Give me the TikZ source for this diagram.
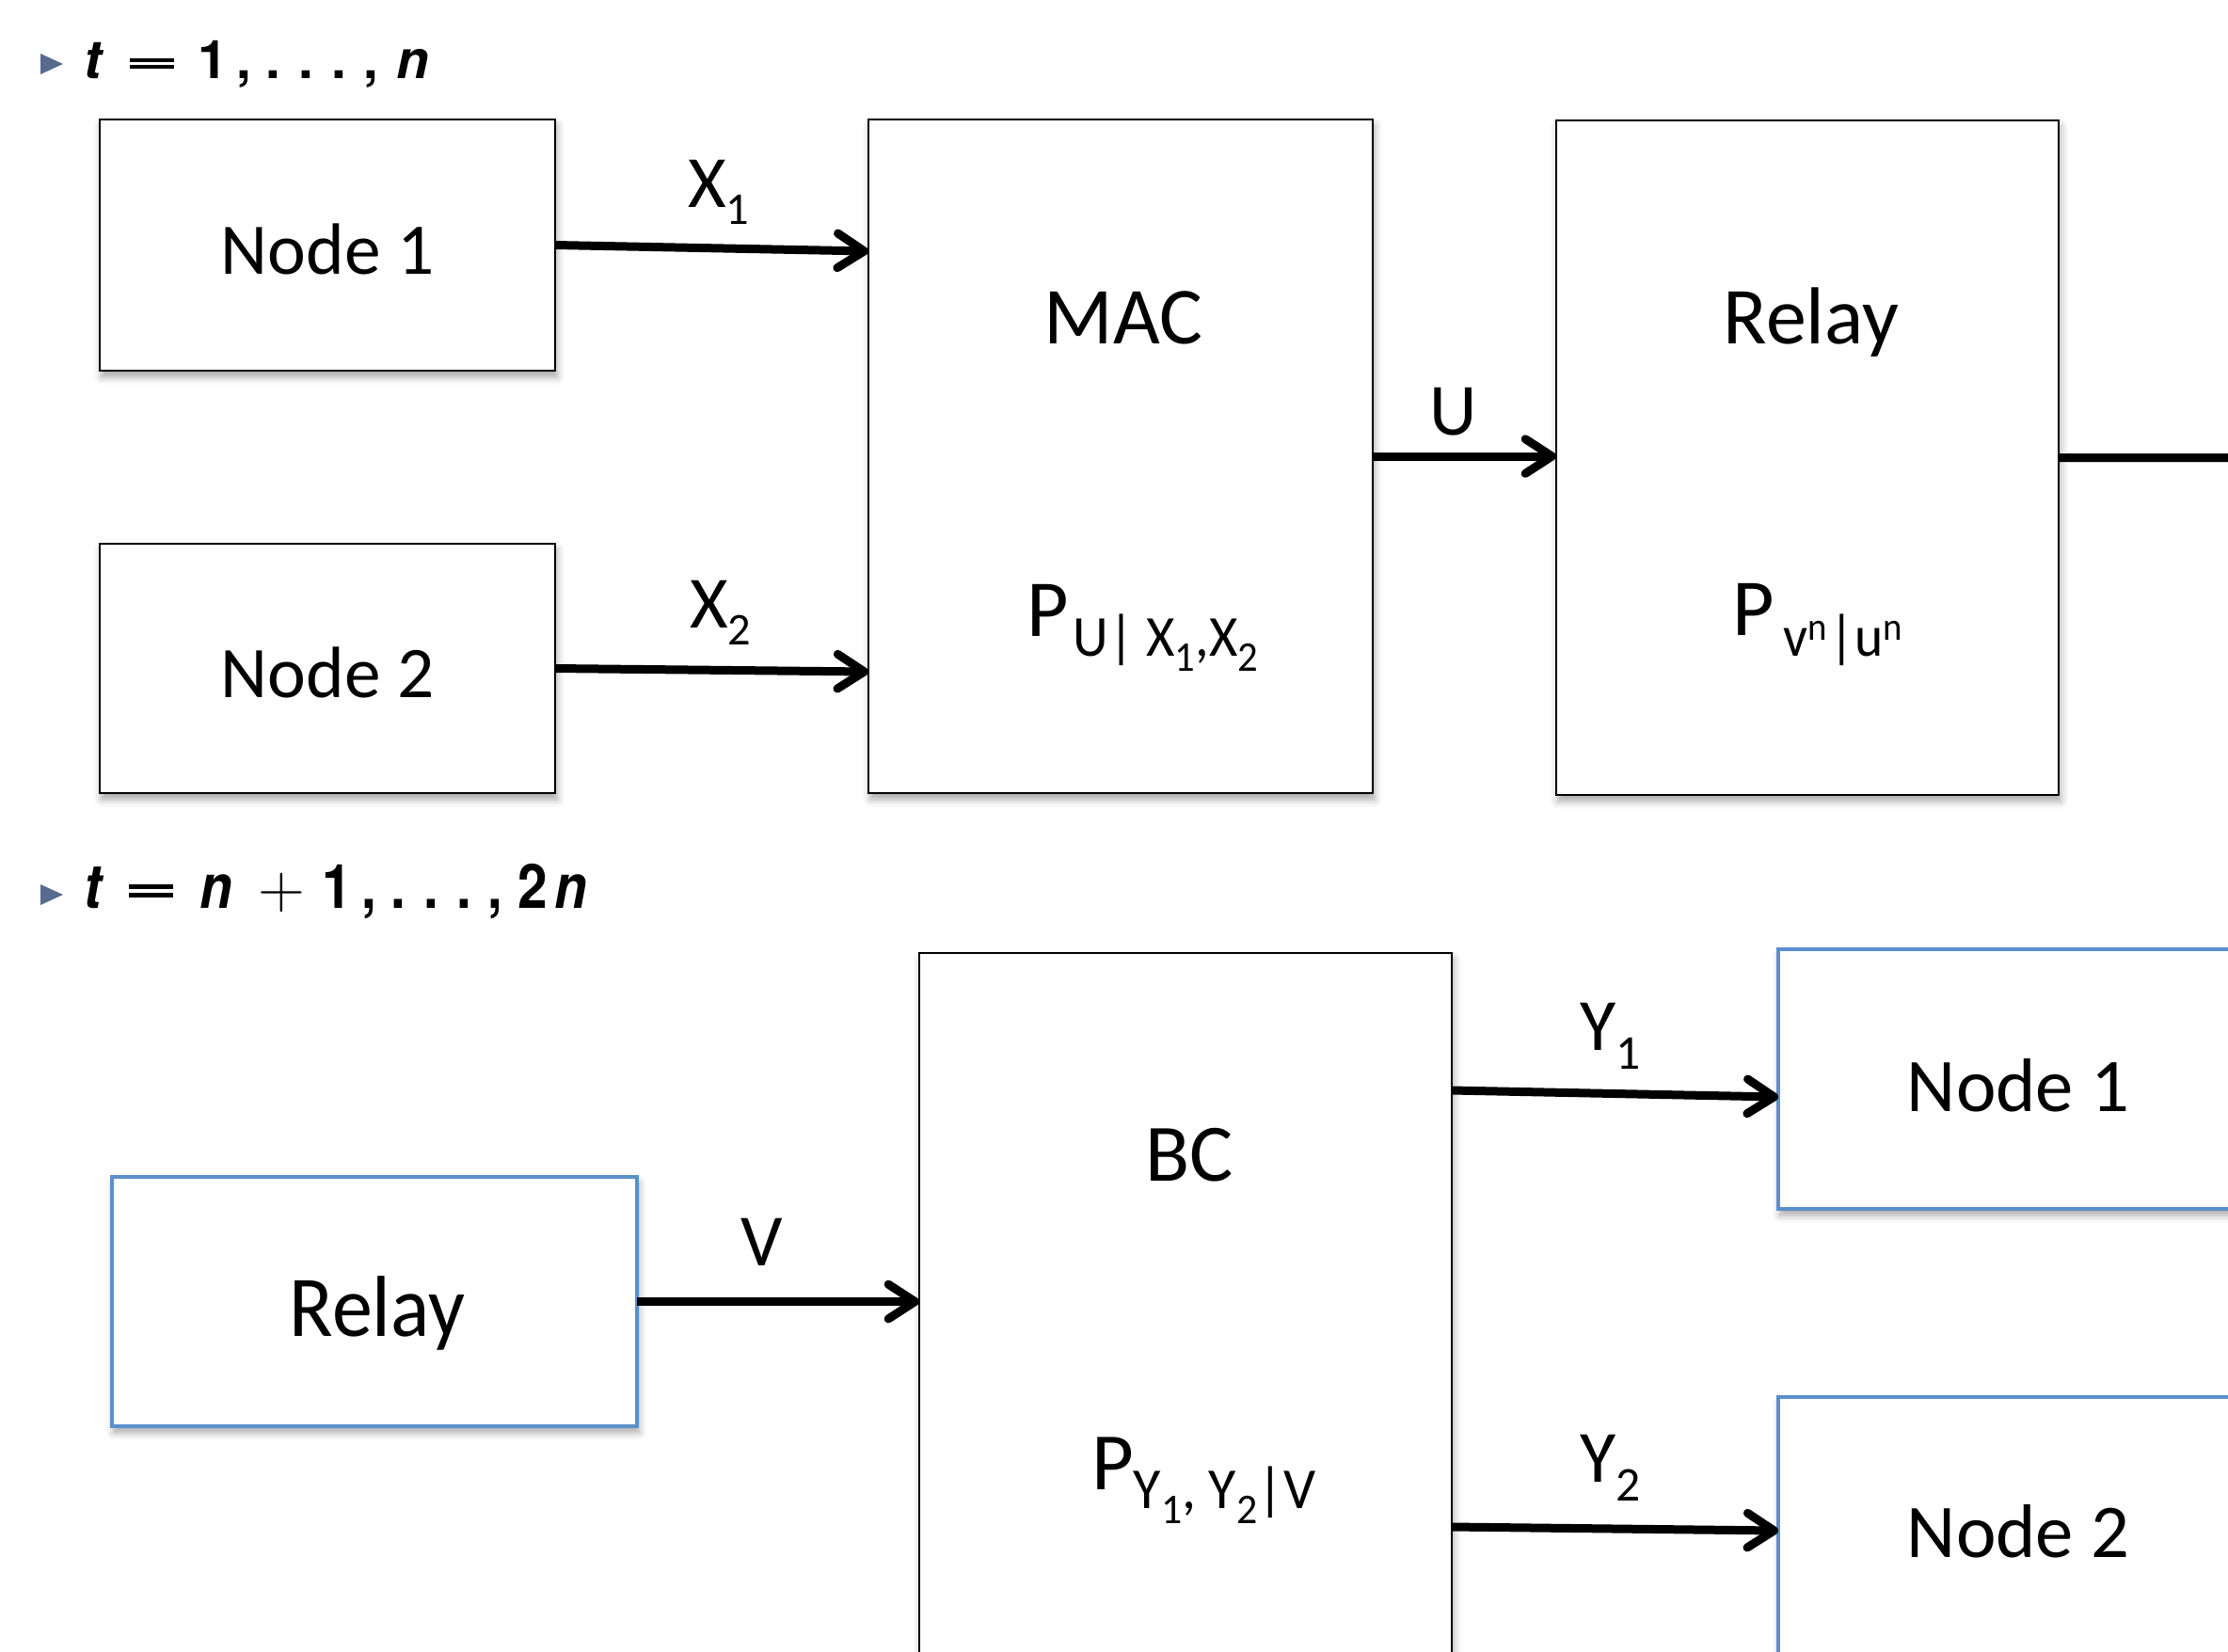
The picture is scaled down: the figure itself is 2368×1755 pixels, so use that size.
\documentclass[tikz,border=0pt]{standalone}
\usepackage{fontspec}
\usepackage{graphicx}
\setmainfont{Carlito}
\newfontfamily\herosfont{TeX Gyre Heros}
\usetikzlibrary{arrows.meta,calc,shadows.blur}
\definecolor{boxblue}{RGB}{91,143,204}
\definecolor{bulletcol}{RGB}{88,106,142}
\newcommand\fs[1]{\fontsize{#1}{#1}\selectfont}
\newcommand\gl[2]{\makebox[#1pt][l]{#2}}
\newcommand\beq{\rlap{\rule[2.9pt]{14.2pt}{1.2pt}}\rule[5.2pt]{14.2pt}{1.2pt}}
\tikzset{
  box/.style={draw=black, line width=0.75pt, fill=white, inner sep=0pt, outer sep=0pt,
    anchor=north west,
    blur shadow={shadow xshift=0.6pt, shadow yshift=-2pt, shadow blur radius=2.4pt, shadow opacity=35}},
  bluebox/.style={box, draw=boxblue, line width=1pt},
  arr/.style={line width=2.7pt, -{Straight Barb[length=8.5pt,width=11pt,round]}},
  wire/.style={line width=2.7pt},
  lbl/.style={inner sep=0pt, outer sep=0pt, anchor=base},
  lblw/.style={lbl, anchor=base west},
  ttl/.style={lblw, font={\herosfont\bfseries\fs{17}}},
}
\begin{document}
\begin{tikzpicture}[x=0.3pt,y=-0.3pt]
\useasboundingbox (0,0) rectangle (2368,1755);
\clip (0,0) rectangle (2368,1755);

% ---- titles
\fill[bulletcol] (43,57) -- (67,68) -- (43,79) -- cycle;
\node[ttl] (title1) at (89,83) {\gl{14.7}{\itshape t}\gl{21.6}{\beq}\gl{12.6}{1}\gl{9.3}{,}\gl{10.5}{.}\gl{10.5}{.}\gl{10.2}{.}\gl{10.2}{,}{\itshape n}};
\fill[bulletcol] (43,940) -- (67,951) -- (43,962) -- cycle;
\node[ttl] (title2) at (89,965) {\scalebox{1}[1.15]{\gl{14.4}{\itshape t}\gl{22.5}{\beq}\gl{18.6}{\itshape n}\gl{20.7}{\scalebox{1.2}[1]{$+$}}\gl{12.6}{1}\gl{9.3}{,}\gl{10.5}{.}\gl{10.5}{.}\gl{9.9}{.}\gl{9.6}{,}\gl{11.4}{2}{\itshape n}}};

% ---- top boxes
\node[box, minimum width=145.2pt, minimum height=80.1pt] (n1) at (106,127) {};
\node[box, minimum width=145.2pt, minimum height=79.5pt] (n2) at (106,578) {};
\node[box, minimum width=160.8pt, minimum height=214.8pt] (mac) at (923,127) {};
\node[box, minimum width=160.2pt, minimum height=215.1pt] (relay) at (1654,128) {};
\coordinate (offR) at (2420,486.5);

% ---- bottom boxes
\node[bluebox, minimum width=167.4pt, minimum height=79.5pt] (relayb) at (119,1251) {};
\node[box, minimum width=169.8pt, minimum height=240pt] (bc) at (977,1013) {};
\node[bluebox, minimum width=153pt, minimum height=82.8pt] (n1b) at (1890,1009) {};
\node[bluebox, minimum width=153pt, minimum height=90pt] (n2b) at (1890,1485) {};

% ---- connectors
\draw[arr] (n1.east) -- ($(n1.east -| mac.west)+(0,6.5)$);
\draw[arr] (n2.east) -- ($(n2.east -| mac.west)+(0,3.5)$);
\draw[arr] (mac.east) -- (mac.east -| relay.west);
\draw[wire] (relay.east) -- (offR);
\draw[arr] (relayb.east) -- (relayb.east -| bc.west);
\draw[arr] ($(bc.north east)+(0,146)$) -- ($(n1b.west)+(0,19)$);
\draw[arr] ($(bc.north east)+(0,610)$) -- ($(n2b.north west)+(0,142)$);

% ---- top texts
\node[lbl, font=\fs{23.2}] (n1t) at (348,291) {Node 1};
\node[lbl, font=\fs{23.2}] (n2t) at (348,741) {Node 2};
\node[lbl, font=\fs{25.8}] (mact) at (1194,365) {MAC};
\node[lblw, font=\fs{25.8}] (macp) at (1091,676) {P\hspace{1.5pt}\raisebox{-6.3pt}{\resizebox{59pt}{\height}{\fs{18.5}U| X\raisebox{-4.8pt}{\fs{13.5}1},X\raisebox{-4.8pt}{\fs{13.5}2}}}};
\node[lbl, font=\fs{25.8}] (relayt) at (1925,365) {Relay};
\node[lblw, font=\fs{25.8}] (relayp) at (1841,675) {P\hspace{3pt}\raisebox{-6.6pt}{\resizebox{38pt}{\height}{\fs{18.5}v\raisebox{5.1pt}{\fs{12.5}n}\hspace{1pt}|u\raisebox{5.1pt}{\fs{12.5}n}}}};
\node[lblw, font=\fs{23.5}] (x1l) at (731,220) {X\raisebox{-5.4pt}{\fs{14.5}1}};
\node[lblw, font=\fs{23.5}] (x2l) at (733,667) {X\raisebox{-5.4pt}{\fs{14.5}2}};
\node[lbl, font=\fs{23.5}] (ul) at (1545,462) {U};

% ---- bottom texts
\node[lbl, font=\fs{25.8}] (relaybt) at (401,1420) {\scalebox{1}[1.07]{Relay}};
\node[lbl, font=\fs{23.5}] (vl) at (810,1345) {V};
\node[lbl, font=\fs{26}] (bct) at (1264,1255) {BC};
\node[lblw, font=\fs{26}] (bcp) at (1160,1583) {P\raisebox{-6pt}{\resizebox{58pt}{\height}{\fs{18.5}Y\raisebox{-5pt}{\fs{13.5}1}, Y\raisebox{-5pt}{\fs{13.5}2}|V}}};
\node[lblw, font=\fs{23.5}] (y1l) at (1679,1116) {Y\raisebox{-6pt}{\fs{15.5}1}};
\node[lblw, font=\fs{23.5}] (y2l) at (1679,1575) {Y\raisebox{-6pt}{\fs{15.5}2}};
\node[lbl, font=\fs{24.2}] (n1bt) at (2145,1181) {Node 1};
\node[lbl, font=\fs{24.2}] (n2bt) at (2145,1655) {Node 2};
\end{tikzpicture}
\end{document}
